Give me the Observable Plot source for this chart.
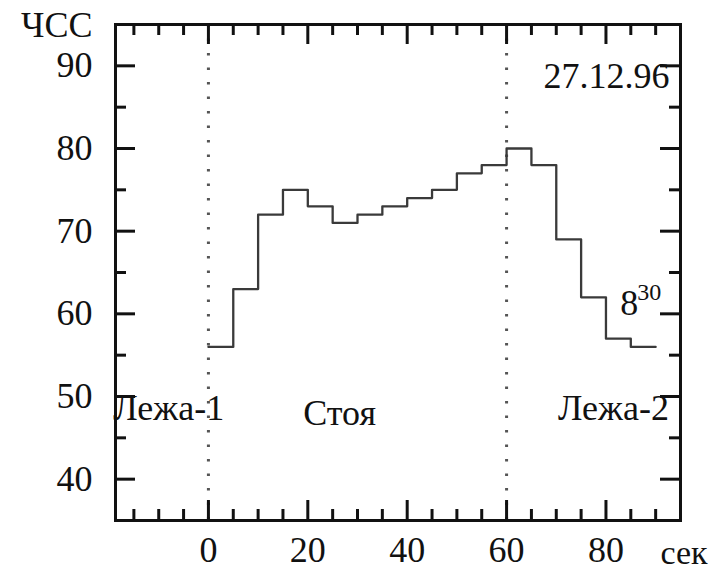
<!DOCTYPE html>
<html>
<head>
<meta charset="utf-8">
<script src="https://cdn.jsdelivr.net/npm/d3@7"></script>
<script src="https://cdn.jsdelivr.net/npm/@observablehq/plot@0.6"></script>
<style>
  html, body { margin: 0; padding: 0; background: #fff; }
  #chart { width: 710px; height: 582px; }
</style>
</head>
<body>
<div id="chart"></div>
<script>
// step start times (s) and heart rate (ЧСС) per 5-second interval
const seconds = [0, 5, 10, 15, 20, 25, 30, 35, 40, 45, 50, 55, 60, 65, 70, 75, 80, 85, 90];
const heartRate = [56, 63, 72, 75, 73, 71, 72, 73, 74, 75, 77, 78, 80, 78, 69, 62, 57, 56];

// phase boundaries (dotted lines)
const phaseBounds = [0, 60];

// axis ticks
const xMajor = [0, 20, 40, 60, 80];
const xMinor = [-15, -10, -5, 5, 10, 15, 25, 30, 35, 45, 50, 55, 65, 70, 75, 85, 90];
const yMajor = [40, 50, 60, 70, 80, 90];
const yMinor = [45, 55, 65, 75, 85];

// phase labels
const phaseText = ["Лежа-1", "Стоя", "Лежа-2"];
const phaseX = [-8.0, 26.4, 81.5];
const phaseY = [48.5, 48.0, 48.5];

// date (right-aligned) and time annotation
const dateNote = {text: "27.12.96", x: 92.8, y: 88.7};
const timeMark = {hour: "8", minute: "30", x: 82.9, y: 61.3};

const W = 710, H = 582;
const mL = 115, mR = 30, mT = 24, mB = 62;
const plotW = W - mL - mR, plotH = H - mT - mB;
const major = 20, minor = 11;
const ink = "#111";

const points = seconds.map((s, i) => ({t: s, hr: heartRate[Math.min(i, heartRate.length - 1)]}));
const phases = phaseText.map((text, i) => ({text, x: phaseX[i], y: phaseY[i]}));

const font = "'Liberation Serif', 'Times New Roman', serif";

const chart = Plot.plot({
  width: W,
  height: H,
  marginLeft: mL, marginRight: mR, marginTop: mT, marginBottom: mB,
  style: {fontFamily: font, fontSize: "36px", color: ink, background: "#fff"},
  x: {domain: [-18.7, 95]},
  y: {domain: [35, 95]},
  marks: [
    Plot.ruleX(phaseBounds, {x: d => d, stroke: "#555", strokeWidth: 3, strokeDasharray: "2.5,12"}),
    Plot.line(points, {x: "t", y: "hr", curve: "step-after", stroke: "#3a3a3a", strokeWidth: 2.3}),
    // bottom & top ticks
    Plot.tickX(xMajor, {x: d => d, insetTop: plotH - major, stroke: ink, strokeWidth: 3}),
    Plot.tickX(xMinor, {x: d => d, insetTop: plotH - minor, stroke: ink, strokeWidth: 3}),
    Plot.tickX(xMajor, {x: d => d, insetBottom: plotH - major, stroke: ink, strokeWidth: 3}),
    Plot.tickX(xMinor, {x: d => d, insetBottom: plotH - minor, stroke: ink, strokeWidth: 3}),
    // left & right ticks
    Plot.tickY(yMajor, {y: d => d, insetRight: plotW - major, stroke: ink, strokeWidth: 3}),
    Plot.tickY(yMinor, {y: d => d, insetRight: plotW - minor, stroke: ink, strokeWidth: 3}),
    Plot.tickY(yMajor, {y: d => d, insetLeft: plotW - major, stroke: ink, strokeWidth: 3}),
    Plot.tickY(yMinor, {y: d => d, insetLeft: plotW - minor, stroke: ink, strokeWidth: 3}),
    Plot.frame({stroke: ink, strokeWidth: 3}),
    Plot.axisX({ticks: xMajor, tickSize: 0, tickPadding: 16, fontSize: 36, fill: ink, label: null}),
    Plot.axisY({ticks: yMajor, tickSize: 0, tickPadding: 23, fontSize: 36, fill: ink, label: null}),
    Plot.text(["сек"], {frameAnchor: "bottom-right", dx: -20, dy: 33, textAnchor: "start", lineAnchor: "middle", fontSize: 34, fill: ink}),
    Plot.text(["ЧСС"], {frameAnchor: "top-left", dx: -23, dy: 1, textAnchor: "end", lineAnchor: "middle", fontSize: 36, fill: ink}),
    Plot.text(phases, {x: "x", y: "y", text: "text", textAnchor: "middle", fontSize: 36, fill: ink}),
    Plot.text([dateNote], {x: "x", y: "y", text: "text", textAnchor: "end", fontSize: 36, fill: ink}),
    Plot.text([timeMark], {x: "x", y: "y", text: "hour", textAnchor: "start", fontSize: 36, fill: ink}),
    Plot.text([timeMark], {x: "x", y: "y", text: "minute", textAnchor: "start", dx: 17, dy: -11, fontSize: 24, fill: ink})
  ]
});

document.getElementById("chart").appendChild(chart);
</script>
</body>
</html>
